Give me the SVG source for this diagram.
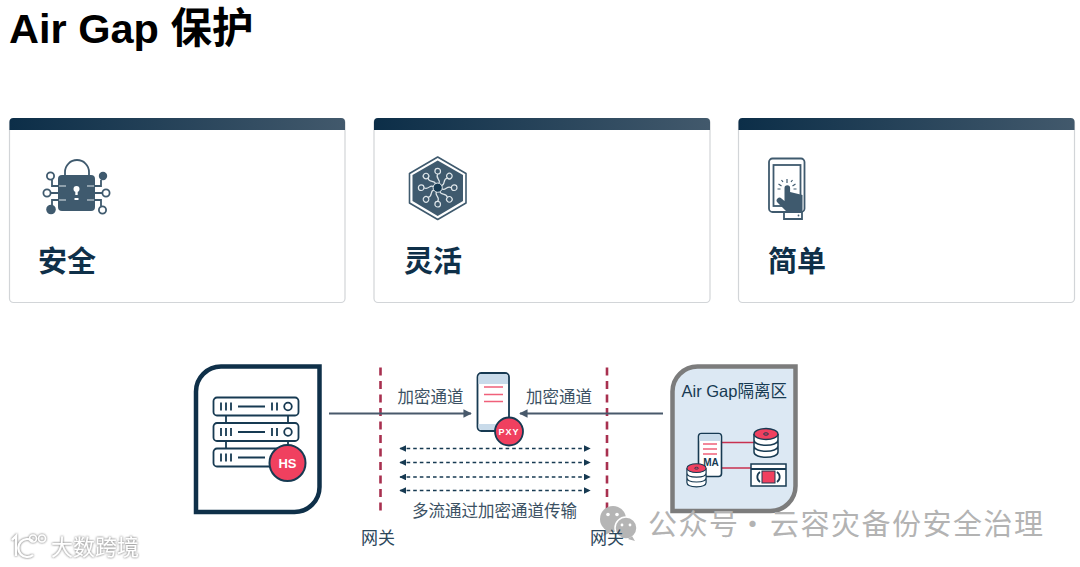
<svg xmlns="http://www.w3.org/2000/svg" width="1080" height="567" viewBox="0 0 1080 567">
<style>
text{font-family:"Liberation Sans","Noto Sans CJK SC",sans-serif}
.cjk{font-family:"Noto Sans CJK SC","Liberation Sans",sans-serif}
.cardbody{fill:#fff;stroke:#d2d5d8;stroke-width:1.2}
.cardtitle{font-size:29px;font-weight:700;fill:#0f3049}
.lab{font-size:16.5px;fill:#3b5163}
.gw{font-size:17px;fill:#2d475b}
.ico{fill:none;stroke:#3f5a6e;stroke-width:1.8}
.icf{fill:#3f5a6e}
.icw{fill:none;stroke:#dfe6ea;stroke-width:1.2}
.navy{fill:none;stroke:#173a52;stroke-width:1.8}
.redln{fill:none;stroke:#f0607a;stroke-width:1.5}
.badge{font-weight:700;fill:#fff;text-anchor:middle}
.gate{stroke:#a8304f;stroke-width:2.6;stroke-dasharray:8 5.5;fill:none}
.pipe{stroke:#48596b;stroke-width:2;fill:none}
.multi{stroke:#173a52;stroke-width:1.3;stroke-dasharray:3.6 3;fill:none}
.wm{font-size:29px;fill:#b3b3b3;letter-spacing:1.5px}
.wmg{fill:#b5b5b5}
</style>
<defs>
<linearGradient id="bar"><stop offset="0" stop-color="#0c2e48"/><stop offset="1" stop-color="#42596c"/></linearGradient>
<marker id="ah" viewBox="0 0 10 10" refX="9" refY="5" markerWidth="4.2" markerHeight="4.2" orient="auto-start-reverse"><path d="M0 0L10 5L0 10z" fill="#48596b"/></marker>
<marker id="dh" viewBox="0 0 10 10" refX="9" refY="5" markerWidth="5.2" markerHeight="5.2" orient="auto-start-reverse"><path d="M0 0L10 5L0 10z" fill="#173a52"/></marker>
<filter id="halo" x="-10%" y="-20%" width="120%" height="140%"><feGaussianBlur in="SourceAlpha" stdDeviation="1.3" result="b"/><feFlood flood-color="#9a9a9a"/><feComposite in2="b" operator="in" result="s"/><feMerge><feMergeNode in="s"/><feMergeNode in="s"/><feMergeNode in="SourceGraphic"/></feMerge></filter>
<g id="row"><rect x="213.500" y="0" width="85" height="18" rx="3.500" class="navy"/><path d="M221 5v8M226 5v8M231 5v8M238 9h27M272 5v8M277 5v8" class="navy"/><circle cx="288" cy="9" r="3.800" class="navy"/></g>
<g id="disk"><path d="M-12-6v18c0 7 24 7 24 0V-6M-12 0c0 7 24 7 24 0M-12 6c0 7 24 7 24 0" fill="#fff" stroke="#173a52" stroke-width="1.500"/><ellipse cx="0" cy="-6" rx="12" ry="5.500" fill="#f0405f" stroke="#173a52" stroke-width="1.300"/><ellipse cx="0" cy="-6" rx="2.400" ry="1.200" fill="none" stroke="#173a52" stroke-width="1"/></g>
<g id="arm"><circle cx="0" cy="-16.500" r="2.800" class="icw"/><path d="M0-13.700C-3-9 4-8 1-4" class="icw"/></g>
</defs>

<text x="9" y="43" font-size="41.500" font-weight="700" fill="#000" id="title">Air Gap 保护</text>

<g id="card-safe">
<rect x="9.500" y="118.500" width="335.500" height="184" rx="4" class="cardbody"/>
<path d="M9.500 130V122a4 4 0 0 1 4-4H341a4 4 0 0 1 4 4v8z" fill="url(#bar)"/>
<path d="M65 176V172a12 12 0 0 1 24 0v4" class="ico"/>
<rect x="58" y="175" width="37" height="36" rx="4" class="icf"/>
<path d="M76.500 188v7" stroke="#fff" stroke-width="2.400"/><circle cx="76.500" cy="189" r="3" fill="#fff"/><path d="M74.500 199h4" stroke="#fff" stroke-width="2"/>
<path d="M58 186H52V180M58 193H51M58 200H52V205M95 186H101V180M95 193H102M95 200H101V206" class="ico"/>
<path d="M59 186h7M59 200h7M87 186h7M87 200h7" class="icw" stroke-width="1.500"/>
<circle cx="50.500" cy="176" r="3.600" class="ico"/><circle cx="47" cy="193" r="3.600" class="ico"/><circle cx="106" cy="193" r="3.600" class="ico"/><circle cx="102.500" cy="210" r="3.600" class="ico"/>
<circle cx="103" cy="176" r="4.200" class="icf"/><circle cx="51" cy="209.500" r="4.800" class="icf"/>
<text x="38" y="272" class="cardtitle cjk">安全</text>
</g>

<g id="card-flex">
<rect x="374" y="118.500" width="336" height="184" rx="4" class="cardbody"/>
<path d="M374 130V122a4 4 0 0 1 4-4H706a4 4 0 0 1 4 4v8z" fill="url(#bar)"/>
<path d="M437.700 157L466 173.500V203L437.700 219.500L409.500 203V173.500z" fill="none" stroke="#3f5a6e" stroke-width="1.600" stroke-linejoin="round"/>
<path d="M437.700 160.500L463 175V201L437.700 216L412.500 201V175z" class="icf"/>
<use href="#arm" transform="translate(437.700 187.700)"/>
<use href="#arm" transform="translate(437.700 187.700) rotate(45)"/>
<use href="#arm" transform="translate(437.700 187.700) rotate(90)"/>
<use href="#arm" transform="translate(437.700 187.700) rotate(135)"/>
<use href="#arm" transform="translate(437.700 187.700) rotate(180)"/>
<use href="#arm" transform="translate(437.700 187.700) rotate(225)"/>
<use href="#arm" transform="translate(437.700 187.700) rotate(270)"/>
<use href="#arm" transform="translate(437.700 187.700) rotate(315)"/>
<circle cx="437.700" cy="187.700" r="4.600" fill="#173a52" stroke="#dfe6ea" stroke-width="1"/>
<text x="404" y="272" class="cardtitle cjk">灵活</text>
</g>

<g id="card-simple">
<rect x="738.500" y="118.500" width="336" height="184" rx="4" class="cardbody"/>
<path d="M738.500 130V122a4 4 0 0 1 4-4H1070.500a4 4 0 0 1 4 4v8z" fill="url(#bar)"/>
<rect x="769" y="158.500" width="35.500" height="53.500" rx="3.500" class="ico"/>
<rect x="773.500" y="165" width="27" height="41" class="ico" stroke-width="1.400"/>
<path d="M784 212v7h18v-7" class="ico"/><circle cx="798.500" cy="215.500" r="0.900" class="icf"/>
<path d="M784.500 188a2.800 2.800 0 0 1 5.600 0v4l12.400 3v17H787l-9.500-9.500a2.800 2.800 0 0 1 4-4l3 2.500z" class="icf"/>
<path d="M787 183v-4M781.500 186l-3-2M780.500 189h-3M792.500 186l3-2M793.500 189h3M783 182l-1.500-2M791 182l1.500-2" fill="none" stroke="#3f5a6e" stroke-width="1.200"/>
<text x="768" y="272" class="cardtitle cjk">简单</text>
</g>

<g id="node-hs">
<path d="M196 512V391.500a25 25 0 0 1 25-25H319.500V487a25 25 0 0 1-25 25z" fill="#fff" stroke="#0f3049" stroke-width="4.500"/>
<path d="M226 415.500v8M288 415.500v8M226 441v8M288 441v8" class="navy"/>
<use href="#row" y="397.500"/><use href="#row" y="423"/><use href="#row" y="448.500"/>
<circle cx="287.500" cy="463" r="18" fill="#f0405f" stroke="#173a52" stroke-width="2"/>
<text x="287.500" y="468" class="badge" font-size="13">HS</text>
</g>

<g id="connectors">
<path d="M380.500 367.500V511M607 367.500V511" class="gate"/>
<path d="M329 413.500H471" class="pipe" marker-end="url(#ah)"/>
<path d="M663 413.500H520" class="pipe" marker-end="url(#ah)"/>
<path d="M400 448.500H590" class="multi" marker-start="url(#dh)" marker-end="url(#dh)"/>
<path d="M400 462.500H590" class="multi" marker-start="url(#dh)" marker-end="url(#dh)"/>
<path d="M400 477H590" class="multi" marker-start="url(#dh)" marker-end="url(#dh)"/>
<path d="M400 490.500H590" class="multi" marker-start="url(#dh)" marker-end="url(#dh)"/>
</g>

<g id="node-pxy">
<rect x="477.500" y="373" width="31.500" height="58" rx="4" fill="#fff" stroke="#173a52" stroke-width="1.800"/>
<path d="M478.500 384V377a3 3 0 0 1 3-3H505a3 3 0 0 1 3 3v7zM478.500 424H508v3a3 3 0 0 1-3 3H481.500a3 3 0 0 1-3-3z" fill="#c9dbea"/>
<path d="M484 387h19M484 394.500h19M484 401.500h19" class="redln"/>
<circle cx="509" cy="431.500" r="14" fill="#f0405f" stroke="#173a52" stroke-width="1.800"/>
<text x="509" y="435" class="badge" font-size="9" letter-spacing="1">PXY</text>
</g>

<g id="node-airgap">
<path d="M672.500 511V391.500a25 25 0 0 1 25-25H795.500V486a25 25 0 0 1-25 25z" fill="#dce8f3" stroke="#7c7c7c" stroke-width="4.500"/>
<path d="M722 442.500H755M722 468H751" stroke="#c8304f" stroke-width="1.400" fill="none"/>
<rect x="698.500" y="433.500" width="23" height="43" rx="3" fill="#fff" stroke="#173a52" stroke-width="1.600"/>
<path d="M699.500 441v-5a2 2 0 0 1 2-2H718.500a2 2 0 0 1 2 2v5z" fill="#c9dbea"/>
<path d="M703 444h14M703 449h14M703 454h14" class="redln" stroke-width="1.300"/>
<use href="#disk" transform="translate(766 440)"/>
<use href="#disk" transform="translate(696.500 473) scale(.8)"/>
<text x="711" y="466" class="badge" font-size="10" style="fill:#173a52">MA</text>
<rect x="751" y="464" width="35" height="22" fill="#fff" stroke="#173a52" stroke-width="1.500"/>
<path d="M751 469H786" class="navy" stroke-width="1.200"/>
<path d="M760 472a6 6 0 0 0 0 10M777 472a6 6 0 0 1 0 10" class="navy" stroke-width="2.500"/>
<rect x="762" y="471" width="13" height="12" fill="#f0405f" stroke="#173a52" stroke-width="1"/>
</g>

<g id="labels">
<text x="397.500" y="403" class="lab cjk">加密通道</text>
<text x="526" y="403" class="lab cjk">加密通道</text>
<text x="412" y="517" class="lab cjk">多流通过加密通道传输</text>
<text x="681.500" y="397" font-size="16.500" fill="#173a52">Air Gap<tspan class="cjk">隔离区</tspan></text>
</g>

<g id="watermark-right">
<circle cx="613" cy="519" r="13" class="wmg"/>
<path d="M606 529l-3 7 8-4z" class="wmg"/>
<circle cx="626" cy="528" r="11" class="wmg" stroke="#fff" stroke-width="1.500"/>
<path d="M632 536l3 5-7-2z" class="wmg"/>
<circle cx="608" cy="514.500" r="1.800" fill="#fff"/><circle cx="617" cy="514.500" r="1.800" fill="#fff"/><circle cx="622" cy="525" r="1.400" fill="#fff"/><circle cx="630" cy="525" r="1.400" fill="#fff"/>
<text y="535" class="wm cjk"><tspan x="648">公众号</tspan><tspan x="738">·</tspan><tspan x="770">云容灾备份安全治理</tspan></text>
</g>

<text x="361" y="544" class="gw cjk">网关</text>
<text x="590" y="544" class="gw cjk">网关</text>

<g id="watermark-left" filter="url(#halo)">
<path d="M12 540l4-4v20M33 541a9 9 0 1 0 0 14" fill="none" stroke="#fff" stroke-width="2.200"/>
<circle cx="33" cy="538.500" r="3.500" fill="none" stroke="#fff" stroke-width="1.600"/><circle cx="42" cy="538.500" r="3.500" fill="none" stroke="#fff" stroke-width="1.600"/>
<text x="51" y="555" font-size="22" class="cjk" fill="#fff">大数跨境</text>
</g>
</svg>
